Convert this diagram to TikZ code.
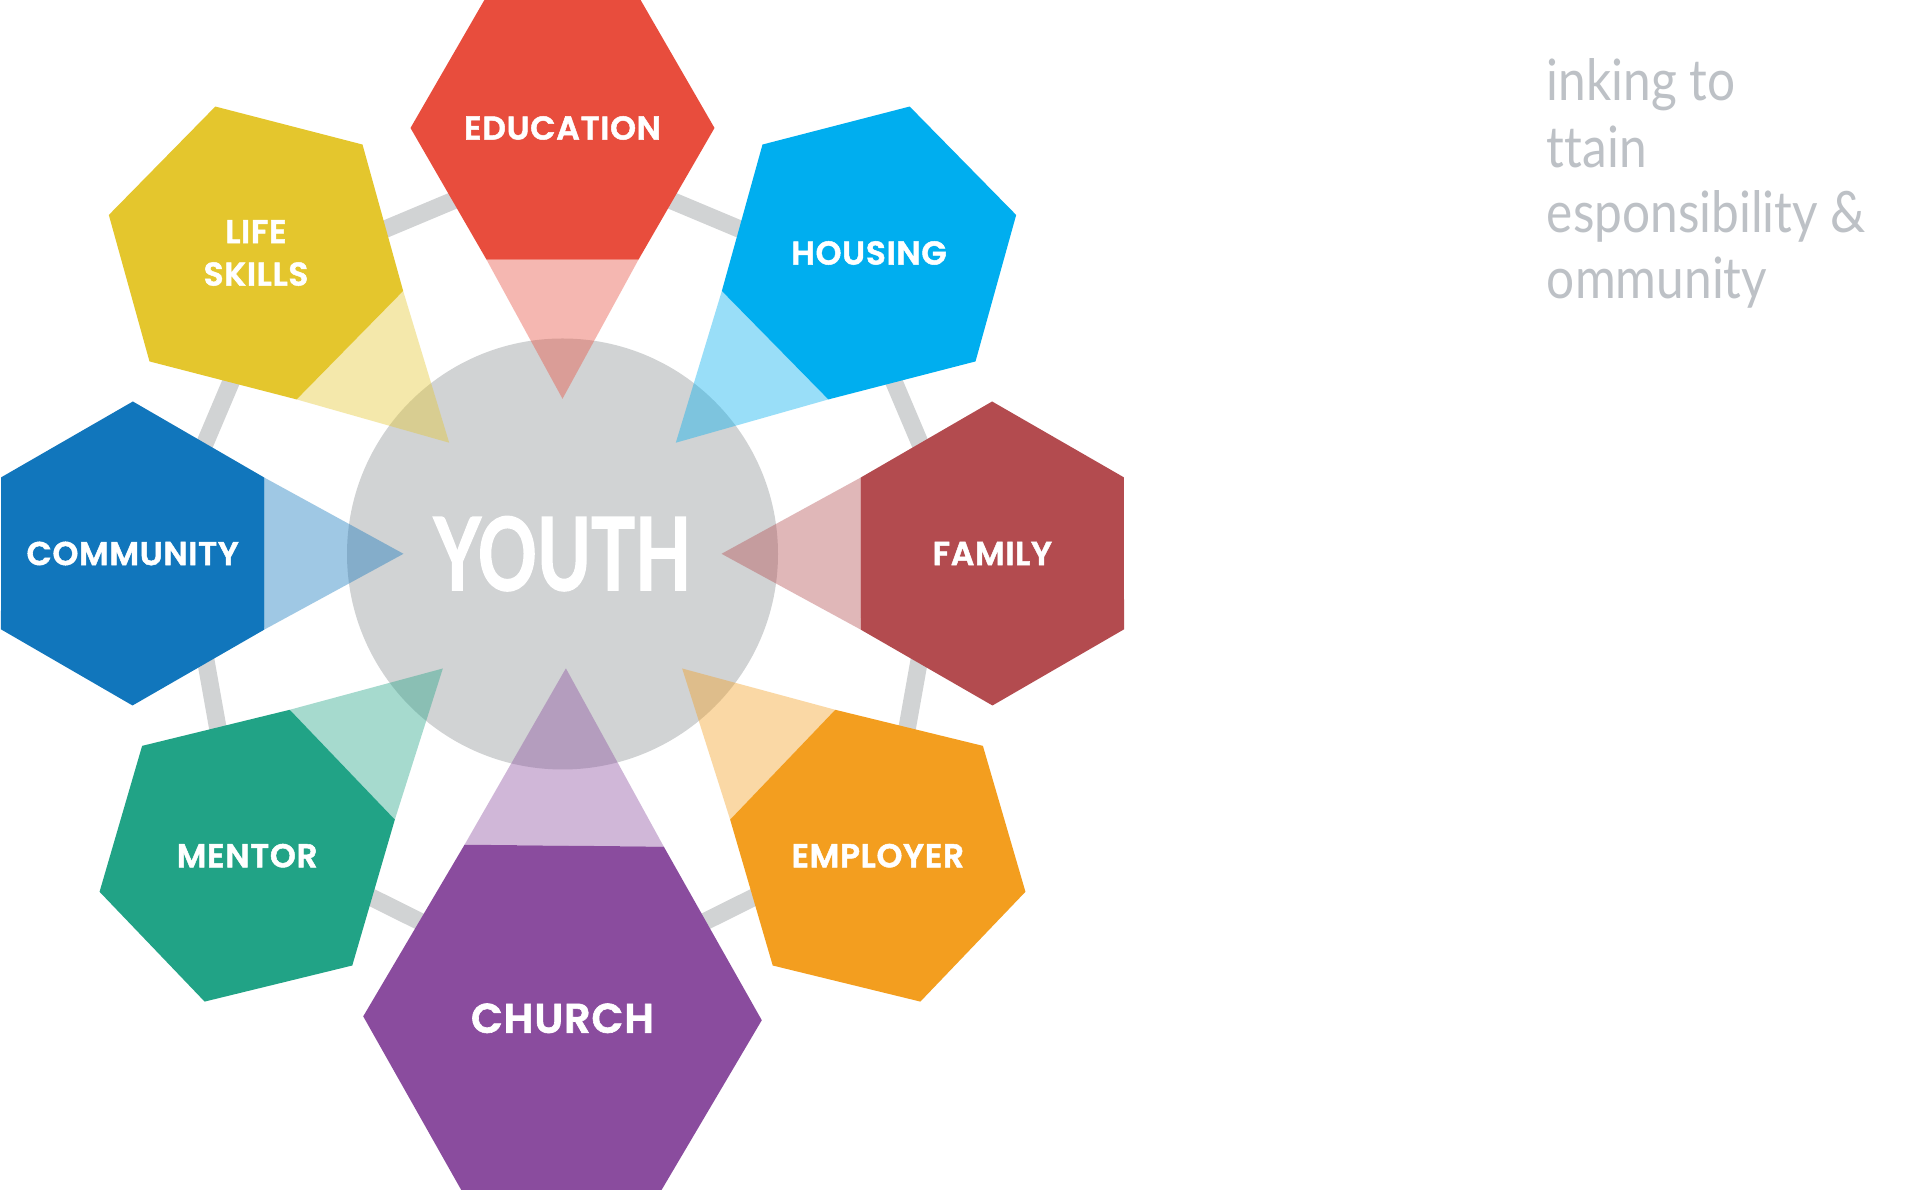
\documentclass[tikz,border=0pt]{standalone}
\usepackage{fontspec}
\usetikzlibrary{calc}
\IfFontExistsTF{Poppins SemiBold}
  {\newfontfamily\hexfont{Poppins SemiBold}[LetterSpace=2,FakeBold=1.5]\newcommand\hexsel{\hexfont}}
  {\newfontfamily\hexfont{Poppins}\newcommand\hexsel{\hexfont\bfseries}}
\newfontfamily\youthfont{Lato}[FakeStretch=0.72,FakeBold=1.2]
\newfontfamily\sidefont{Lato}[FakeStretch=0.87,RawFeature={-liga}]
\definecolor{cEdu}{HTML}{E84D3D}
\definecolor{cLife}{HTML}{E4C62D}
\definecolor{cHouse}{HTML}{00AEEF}
\definecolor{cComm}{HTML}{1176BC}
\definecolor{cFam}{HTML}{B34B4F}
\definecolor{cEmp}{HTML}{F39E1F}
\definecolor{cMent}{HTML}{21A386}
\definecolor{cChurch}{HTML}{8A4C9E}
\definecolor{cGrey}{HTML}{D1D3D4}
\definecolor{cSide}{HTML}{BDC1C6}
% #1 name, #2 centre, #3 radius, #4 apex distance, #5 target, #6 colour
\newcommand\petaltri[6]{%
  \coordinate (#1) at #2;
  \fill[#6, opacity=0.4] ($(#1)!#3!-30:(#5)$) -- ($(#1)!#4!(#5)$) -- ($(#1)!#3!30:(#5)$) -- cycle;}
\newcommand\petalhex[4]{%
  \fill[#4] ($(#1)!#2!30:(#3)$) -- ($(#1)!#2!90:(#3)$) -- ($(#1)!#2!150:(#3)$)
    -- ($(#1)!#2!210:(#3)$) -- ($(#1)!#2!270:(#3)$) -- ($(#1)!#2!330:(#3)$) -- cycle;}
\begin{document}
\begin{tikzpicture}[x=1pt,y=1pt,
  hexlabel/.style={text=white, font=\hexsel\fontsize{33}{42.4}\selectfont, align=center, inner sep=0pt},
  ring/.style={cGrey, line width=17.5pt},
  sidetext/.style={text=cSide, font=\sidefont\fontsize{57}{66}\selectfont, anchor=base west, inner sep=0pt}]
\useasboundingbox (0,0) rectangle (1920,1190);
\fill[white] (0,0) rectangle (1920,1190);
\coordinate (youth) at (562.5,636);
\coordinate (churchaim) at (567,636);
% ring of connectors
\coordinate (rEdu) at (562.5,1035.2);
\coordinate (rHouse) at (848.6,915.2);
\coordinate (rFam) at (946.7,683.7);
\coordinate (rEmp) at (889,360);
\coordinate (rChurch) at (562.5,197.5);
\coordinate (rMent) at (236,360);
\coordinate (rComm) at (178.3,683.7);
\coordinate (rLife) at (276.4,915.2);
\draw[ring] (rEdu) -- (rHouse) -- (rFam) -- (rEmp) -- (rChurch) -- (rMent) -- (rComm) -- (rLife) -- cycle;
% centre circle
\node[circle, fill=cGrey, minimum size=431pt, inner sep=0pt, outer sep=0pt] (yc) at (youth) {};
% translucent pointers
\petaltri{edu}{(562.5,1062)}{152pt}{270.8pt}{youth}{cEdu}
\petaltri{life}{(256,937)}{152pt}{270.8pt}{youth}{cLife}
\petaltri{house}{(869,937)}{152pt}{270.8pt}{youth}{cHouse}
\petaltri{comm}{(132.7,636.5)}{152pt}{270.8pt}{youth}{cComm}
\petaltri{fam}{(992.3,636.5)}{152pt}{270.8pt}{youth}{cFam}
\petaltri{ment}{(247.2,334.3)}{152pt}{270.8pt}{youth}{cMent}
\petaltri{emp}{(877.8,334.3)}{152pt}{270.8pt}{youth}{cEmp}
\petaltri{church}{(562.5,171.7)}{199.3pt}{350pt}{churchaim}{cChurch}
% hexagons
\petalhex{edu}{152pt}{youth}{cEdu}
\petalhex{life}{152pt}{youth}{cLife}
\petalhex{house}{152pt}{youth}{cHouse}
\petalhex{comm}{152pt}{youth}{cComm}
\petalhex{fam}{152pt}{youth}{cFam}
\petalhex{ment}{152pt}{youth}{cMent}
\petalhex{emp}{152pt}{youth}{cEmp}
\petalhex{church}{199.3pt}{churchaim}{cChurch}
% labels
\node[hexlabel] (eduT) at (edu) {EDUCATION};
\node[hexlabel] (lifeT) at (life) {LIFE\\SKILLS};
\node[hexlabel] (houseT) at (house) {HOUSING};
\node[hexlabel] (commT) at (comm) {COMMUNITY};
\node[hexlabel] (famT) at (fam) {FAMILY};
\node[hexlabel] (mentT) at (ment) {MENTOR};
\node[hexlabel] (empT) at (emp) {EMPLOYER};
\node[hexlabel, font=\hexsel\fontsize{41.5}{48}\selectfont] (churchT) at (church) {CHURCH};
\node[text=white, font=\youthfont\bfseries\fontsize{101.5}{110}\selectfont, inner sep=0pt] (youthT) at (562.5,636.3) {YOUTH};
% side text
\node[sidetext] (s1) at (1546.7,1089) {inking to};
\node[sidetext] (s2) at (1546.7,1022.7) {ttain};
\node[sidetext] (s3) at (1546.7,957.3) {esponsibility \&};
\node[sidetext] (s4) at (1546.7,891.7) {ommunity};
\end{tikzpicture}
\end{document}
